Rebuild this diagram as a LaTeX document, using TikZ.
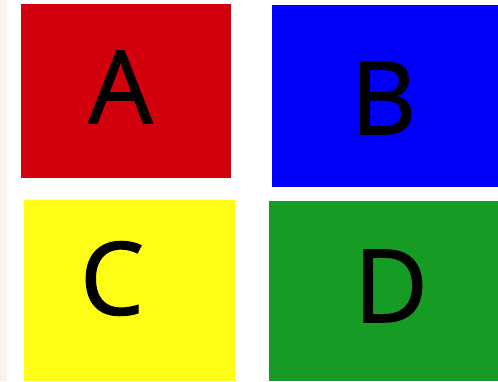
\documentclass[tikz,border=0pt]{standalone}
\usepackage{fontspec}
\setmainfont[FakeBold=1.4]{Open Sans}
\definecolor{tilered}{RGB}{210,0,12}
\definecolor{tileblue}{RGB}{0,0,250}
\definecolor{tileyellow}{RGB}{255,252,22}
\definecolor{tilegreen}{RGB}{22,155,36}
\definecolor{ink}{RGB}{0,0,0}
\definecolor{edgepeach}{RGB}{252,242,233}
\tikzset{
  tile/.style   = {draw=none, inner sep=0pt, outer sep=0pt},
  letter/.style = {font=\fontsize{101}{101}\selectfont, text=ink, inner sep=0pt},
}

\begin{document}
\begin{tikzpicture}[x=1pt,y=1pt]
\useasboundingbox (0,0) rectangle (498,381);
\fill[white] (0,0) rectangle (498,381);
% faint tint on the left margin
\fill[edgepeach] (0,0) rectangle (7,381);

% ======================================================= top row
\node[tile, fill=tilered,  minimum width=210pt, minimum height=174pt] (tileA) at (126,290) {};
\node[tile, fill=tileblue, minimum width=226pt, minimum height=182pt] (tileB) at (385,285) {};

% ======================================================= bottom row
\node[tile, fill=tileyellow, minimum width=211pt, minimum height=181pt] (tileC) at (129.5,90.5) {};
\node[tile, fill=tilegreen,  minimum width=229pt, minimum height=180pt] (tileD) at (383.5,90) {};

% letters sit a little off the tile centres
\node[letter] (labA) at ([shift={(-5.5,4)}]tileA.center) {A};
\node[letter] (labB) at ([shift={(-1.5,-2)}]tileB.center) {B};
\node[letter] (labC) at ([shift={(-17.5,12)}]tileC.center) {C};
\node[letter] (labD) at ([shift={(7.5,5)}]tileD.center) {D};

\end{tikzpicture}
\end{document}
